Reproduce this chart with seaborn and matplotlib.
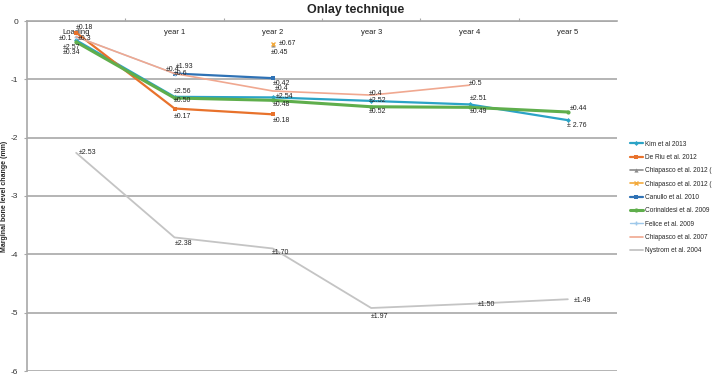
import seaborn as sns
import matplotlib
matplotlib.use('Agg')
import matplotlib.pyplot as plt

# time points (category axis)
categories = ['Loading', 'year 1', 'year 2', 'year 3', 'year 4', 'year 5']

# mean marginal bone level change (mm), None = not reported
kim_2013 = [-0.33, -1.30, -1.31, -1.37, -1.43, -1.70]
kim_2013_sd = ['±2.57', '±2.56', '±2.54', '±2.52', '±2.51', '± 2.76']
de_riu_2012 = [-0.20, -1.50, -1.60, None, None, None]
de_riu_2012_sd = ['±0.18', '±0.17', '±0.18']
chiapasco_2012a = [None, None, -0.41, None, None, None]
chiapasco_2012a_sd = ['±0.45']
chiapasco_2012b = [None, None, -0.40, None, None, None]
chiapasco_2012b_sd = ['±0.67']
canullo_2010 = [None, -0.90, -0.98, None, None, None]
canullo_2010_sd = ['±1.93', '±0.42']
corinaldesi_2009 = [-0.36, -1.32, -1.36, -1.47, -1.48, -1.56]
corinaldesi_2009_sd = ['±0.34', '±0.50', '±0.48', '±0.52', '±0.49', '±0.44']
felice_2009 = [-0.27, -0.90, None, None, None, None]
felice_2009_sd = ['±0.1', '±0.4']
chiapasco_2007 = [-0.27, -0.90, -1.20, -1.27, -1.10, None]
chiapasco_2007_sd = ['±0.3', '±0.6', '±0.4', '±0.4', '±0.5']
nystrom_2004 = [-2.26, -3.71, -3.90, -4.92, -4.85, -4.77]
nystrom_2004_sd = ['±2.53', '±2.38', '±1.70', '±1.97', '±1.50', '±1.49']

series = [
    ('Kim et al 2013', kim_2013, kim_2013_sd),
    ('De Riu et al. 2012', de_riu_2012, de_riu_2012_sd),
    ('Chiapasco et al. 2012 (', chiapasco_2012a, chiapasco_2012a_sd),
    ('Chiapasco et al. 2012 ( ', chiapasco_2012b, chiapasco_2012b_sd),
    ('Canullo et al. 2010', canullo_2010, canullo_2010_sd),
    ('Corinaldesi et al. 2009', corinaldesi_2009, corinaldesi_2009_sd),
    ('Felice et al. 2009', felice_2009, felice_2009_sd),
    ('Chiapasco et al. 2007', chiapasco_2007, chiapasco_2007_sd),
    ('Nystrom et al. 2004', nystrom_2004, nystrom_2004_sd),
]

# line styles: color, marker, linewidth, markersize
styles = [
    ('#2ba3c6', 'D', 1.6, 2.5),
    ('#e8722c', 's', 1.6, 3.0),
    ('#8c8c8c', '^', 1.2, 3.0),
    ('#f3aa3c', 'x', 1.2, 3.0),
    ('#2f72b5', 's', 1.6, 2.5),
    ('#5fae4c', 'o', 2.2, 3.0),
    ('#9ec8ea', '+', 1.0, 3.0),
    ('#f0a890', '', 1.2, 0),
    ('#c4c4c4', '', 1.3, 0),
]

# pixel offsets of the ± labels (one per reported point)
label_offsets = [
    [(-13, -7), (-1, 5), (3, 1), (-2, 0), (0, 6), (-1, -5)],
    [(0, 5), (-1, -8), (0, -6)],
    [(-2, -8)],
    [(6, 1)],
    [(1, 7), (0, -5)],
    [(-13, -11), (-1, -3), (0, -4), (-2, -5), (0, -4), (2, 4)],
    [(-17, -2), (-9, 4)],
    [(2, -2), (-1, 0), (2, 3), (-2, 2), (-1, 2)],
    [(3, 0), (0, -6), (-1, -4), (0, -8), (8, -1), (6, -1)],
]

sns.set_theme(style='white')
plt.rcParams['font.family'] = ['Liberation Sans Narrow', 'Liberation Sans', 'DejaVu Sans']

fig = plt.figure(figsize=(7.12, 3.79), dpi=100)
ax = fig.add_axes([27 / 712, 1 - 371 / 379, 590 / 712, 350 / 379])

for (name, values, sds), (color, marker, lw, ms), offs in zip(series, styles, label_offsets):
    xs = [i for i, v in enumerate(values) if v is not None]
    ys = [v for v in values if v is not None]
    sns.lineplot(x=xs, y=ys, ax=ax, color=color, linewidth=lw,
                 marker=marker if marker else None, markersize=ms,
                 markeredgecolor=color, markeredgewidth=1 if marker in ('x', '+') else 0,
                 label=name, sort=False)
    for x, y, txt, (dx, dy) in zip(xs, ys, sds, offs):
        ax.annotate(txt, (x, y), xytext=(dx, dy), textcoords='offset pixels',
                    ha='left', va='center', fontsize=5, color='#222222')

ax.set_xlim(-0.5, len(categories) - 0.5)
ax.set_ylim(-6, 0)
ax.set_yticks(range(-6, 1))
ax.set_yticklabels([str(v) for v in range(-6, 1)])
ax.yaxis.grid(True, color='#a8a8a8', linewidth=1.2)
ax.set_axisbelow(True)

ax.set_xticks(range(len(categories)))
ax.set_xticklabels(categories)
ax.set_xticks([i + 0.5 for i in range(len(categories) - 1)], minor=True)
ax.tick_params(axis='x', which='major', top=False, bottom=False, labeltop=True,
               labelbottom=False, length=0, pad=-11, labelsize=5.5, labelcolor='#222222')
ax.tick_params(axis='x', which='minor', top=True, bottom=False, direction='out',
               length=2.5, width=0.8, color='#a8a8a8')
ax.tick_params(axis='y', left=True, direction='out', length=2.5, width=0.8,
               color='#a8a8a8', labelsize=6, labelcolor='#333333', pad=4)

for side in ('right', 'bottom'):
    ax.spines[side].set_visible(False)
for side in ('left', 'top'):
    ax.spines[side].set_color('#a8a8a8')
    ax.spines[side].set_linewidth(1.2)

ax.set_ylabel('Marginal bone level change (mm)', fontsize=5, fontweight='bold')
ax.yaxis.set_label_coords(-19 / 590, 0.5)
fig.suptitle('Onlay technique', x=0.5, y=0.99, fontsize=9, fontweight='bold', va='top')

ax.legend(loc='upper left', bbox_to_anchor=(627 / 712, 1 - 138 / 379),
          bbox_transform=fig.transFigure, frameon=False, fontsize=4.7,
          handlelength=2.0, handletextpad=0.4, labelspacing=0.97, borderaxespad=0)

fig.savefig('out.png', dpi=100)
